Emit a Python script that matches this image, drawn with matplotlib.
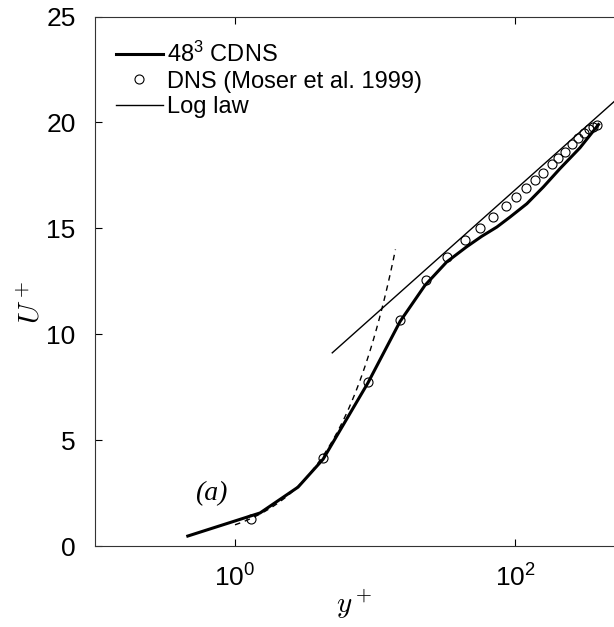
import numpy as np
import matplotlib
matplotlib.use("Agg")
import matplotlib.pyplot as plt

# ---- data ----
cdns_y = [0.46, 1.51, 2.82, 4.26, 8.9, 15.1, 22.7, 32.5, 45.0, 57.8, 74.2, 92.1,
          121.5, 159.3, 209.0, 291.0, 395.0]
cdns_u = [0.47, 1.56, 2.78, 4.10, 7.70, 10.6, 12.3, 13.41, 14.12, 14.62, 15.06, 15.53,
          16.16, 16.95, 17.81, 18.8, 19.9]

dns_y = [1.30, 4.25, 8.9, 15.1, 23.1, 32.6, 44.0, 56.4, 70.2, 86.0, 101.7, 119.3,
         138.5, 157.9, 183.0, 204.0, 227.6, 254.0, 281.0, 311.0, 338.0, 362.0, 383.0]
dns_u = [1.27, 4.15, 7.74, 10.66, 12.55, 13.65, 14.47, 15.03, 15.53, 16.05, 16.48, 16.92,
         17.30, 17.63, 18.02, 18.33, 18.60, 19.0, 19.27, 19.5, 19.67, 19.79, 19.86]

loglaw_y = [4.95, 520.0]
loglaw_u = [9.12, 21.03]

visc_y = np.logspace(0, np.log10(14.0), 60)
visc_u = visc_y  # U+ = y+

xticks = [1, 100]
xticklabels = ["$\\mathregular{10^0}$", "$\\mathregular{10^2}$"]
yticks = [0, 5, 10, 15, 20, 25]

# ---- figure ----
plt.rcParams['font.family'] = ['Liberation Sans', 'DejaVu Sans']
plt.rcParams['mathtext.fontset'] = 'custom'
plt.rcParams['mathtext.rm'] = 'Liberation Sans'
plt.rcParams['mathtext.it'] = 'Liberation Sans:italic'

W, H = 614, 627
fig = plt.figure(figsize=(W / 100, H / 100), dpi=100)
left, right, bottom, top = 95, 614, 546, 16.5
ax = fig.add_axes([left / W, (H - bottom) / H, (right - left) / W, (bottom - top) / H])

ax.plot(cdns_y, cdns_u, color='black', lw=2.2, label='48$^3$ CDNS', zorder=3)
ax.plot(dns_y, dns_u, linestyle='none', marker='o', markersize=6.5, markerfacecolor='none',
        markeredgecolor='black', markeredgewidth=0.8, label='DNS (Moser et al. 1999)', zorder=4)
ax.plot(loglaw_y, loglaw_u, color='black', lw=1.0, label='Log law', zorder=2)
ax.plot(visc_y, visc_u, color='black', lw=1.0, linestyle=(0, (4, 3.5)), zorder=2)

ax.set_xscale('log')
ax.set_xlim(0.1, 10 ** ((614 - 235) / 140))
ax.set_ylim(0, 25)
ax.set_xticks(xticks)
ax.set_xticklabels(xticklabels)
ax.xaxis.set_minor_locator(matplotlib.ticker.NullLocator())
ax.set_yticks(yticks)
ax.tick_params(axis='both', direction='in', labelsize=19, length=5, width=0.8,
               top=True, right=False)
ax.tick_params(axis='y', pad=14)
ax.tick_params(axis='x', pad=13)
ax.spines['right'].set_visible(False)
for s in ['left', 'top', 'bottom']:
    ax.spines[s].set_linewidth(0.8)
    ax.spines[s].set_color('#333333')

ax.set_xlabel('$y^+$', fontsize=21, math_fontfamily='cm', labelpad=-3)
ax.set_ylabel('$U^+$', fontsize=21, math_fontfamily='cm', labelpad=-5)
ax.yaxis.set_label_coords(-0.095, 0.46)

ax.text(0.674, 2.45, '(a)', fontsize=20, family='Liberation Serif', style='italic',
        ha='center', va='center')

leg = ax.legend(loc='upper left', frameon=False, fontsize=17, handlelength=2.0,
                handletextpad=0.15, labelspacing=0.15, borderaxespad=0.0,
                bbox_to_anchor=(0.022, 0.97))

fig.savefig('out.png', dpi=100)
